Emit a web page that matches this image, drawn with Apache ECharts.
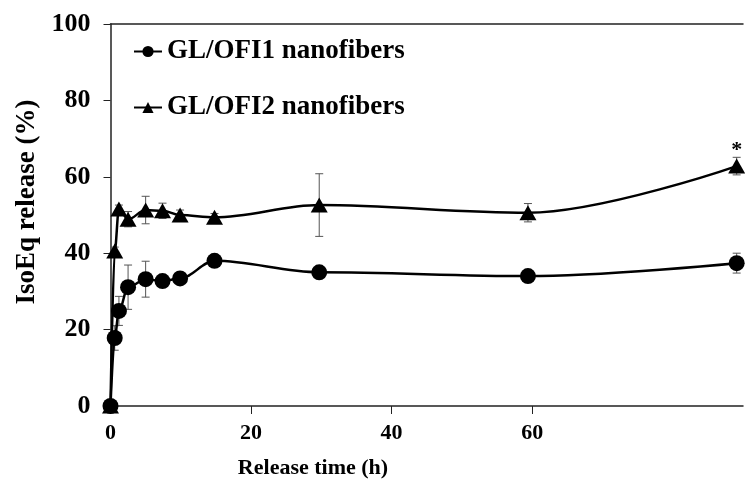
<!DOCTYPE html>
<html>
<head>
<meta charset="utf-8">
<script src="https://cdn.jsdelivr.net/npm/echarts@6/dist/echarts.min.js"></script>
<style>
  html, body { margin: 0; padding: 0; background: #fff; }
  #chart { width: 745px; height: 485px; }
</style>
</head>
<body>
<div id="chart"></div>
<script>
// x positions
var times = [0, 0.6, 1.2, 2.5, 5.0, 7.4, 9.9, 14.8, 29.7, 59.4, 89.1];
// GL/OFI1 nanofibers
var gl1Mean = [0, 17.8, 24.9, 31.1, 33.2, 32.7, 33.4, 38.0, 35.0, 34.0, 37.4];
var gl1Err = [0, 3.2, 3.8, 5.8, 4.7, 0.8, 0.8, 1.5, 0.6, 0.6, 2.6];
// GL/OFI2 nanofibers
var gl2Mean = [0, 40.6, 51.6, 48.9, 51.3, 51.1, 50.0, 49.4, 52.6, 50.6, 62.8];
var gl2Err = [0, 1.0, 1.0, 2.0, 3.6, 2.0, 1.3, 1.0, 8.2, 2.4, 2.3];
var xTicks = [0, 20, 40, 60];

var serif = "Liberation Serif";

function pairs(ys) {
  return times.map(function (t, i) {
    return [t, ys[i]];
  });
}
function errData(ys, es) {
  return times.map(function (t, i) {
    return [t, ys[i] - es[i], ys[i] + es[i]];
  });
}
// 误差线
function errBar(params, api) {
  var x = api.value(0);
  var top = api.coord([x, api.value(2)]);
  var bot = api.coord([x, api.value(1)]);
  var w = 4;
  var st = { stroke: "#555", lineWidth: 1 };
  return {
    type: "group",
    children: [
      { type: "line", shape: { x1: top[0], y1: top[1], x2: bot[0], y2: bot[1] }, style: st },
      { type: "line", shape: { x1: top[0] - w, y1: top[1], x2: top[0] + w, y2: top[1] }, style: st },
      { type: "line", shape: { x1: bot[0] - w, y1: bot[1], x2: bot[0] + w, y2: bot[1] }, style: st },
    ],
  };
}

var gl2Data = pairs(gl2Mean);
var last = gl2Data.length - 1;
gl2Data[last] = {
  value: gl2Data[last],
  label: { show: true, formatter: "*", position: "top", distance: -3, fontSize: 22, fontWeight: "bold", fontFamily: serif, color: "#000" },
};

var myChart = echarts.init(document.getElementById("chart"));
myChart.setOption({
  animation: false,
  textStyle: { fontFamily: serif },
  grid: { left: 110.5, right: 2, top: 24, bottom: 79 },
  title: {
    text: "Release time (h)",
    left: 308,
    top: 452,
    textAlign: "center",
    textStyle: { fontFamily: serif, fontWeight: "bold", fontSize: 22, color: "#000" },
  },
  legend: {
    orient: "vertical",
    left: 128,
    top: 33,
    itemWidth: 28,
    itemHeight: 14,
    itemGap: 29,
    textStyle: { fontFamily: serif, fontWeight: "bold", fontSize: 27, color: "#000" },
    data: ["GL/OFI1 nanofibers", "GL/OFI2 nanofibers"],
  },
  xAxis: [
    {
      type: "value",
      min: 0,
      max: 90,
      splitLine: { show: false },
      axisLine: { lineStyle: { color: "#222", width: 1.5 } },
      axisTick: { customValues: xTicks, length: 8, lineStyle: { color: "#222" } },
      axisLabel: {
        customValues: xTicks,
        margin: 16,
        fontFamily: serif,
        fontWeight: "bold",
        fontSize: 22,
        color: "#000",
      },
    },
    {
      type: "value",
      position: "top",
      min: 0,
      max: 90,
      splitLine: { show: false },
      axisLine: { show: true, lineStyle: { color: "#222", width: 1.5 } },
      axisTick: { show: false },
      axisLabel: { show: false },
    },
  ],
  yAxis: {
    type: "value",
    min: 0,
    max: 100,
    interval: 20,
    name: "IsoEq release (%)",
    nameLocation: "middle",
    nameGap: 70,
    nameTextStyle: { fontFamily: serif, fontWeight: "bold", fontSize: 27, color: "#000", padding: [0, 0, 0, 26] },
    splitLine: { show: false },
    axisLine: { show: true, lineStyle: { color: "#222", width: 1.5 } },
    axisTick: { show: true, length: 7, lineStyle: { color: "#222" } },
    axisLabel: { margin: 20, fontFamily: serif, fontWeight: "bold", fontSize: 26, color: "#000" },
  },
  series: [
    {
      name: "err1",
      type: "custom",
      renderItem: errBar,
      data: errData(gl1Mean, gl1Err),
      encode: { x: 0, y: [1, 2] },
      z: 1,
    },
    {
      name: "err2",
      type: "custom",
      renderItem: errBar,
      data: errData(gl2Mean, gl2Err),
      encode: { x: 0, y: [1, 2] },
      z: 1,
    },
    {
      name: "GL/OFI1 nanofibers",
      type: "line",
      data: pairs(gl1Mean),
      smooth: 0.35,
      smoothMonotone: "x",
      symbol: "circle",
      symbolSize: 16,
      itemStyle: { color: "#000" },
      lineStyle: { color: "#000", width: 2.5 },
      z: 3,
    },
    {
      name: "GL/OFI2 nanofibers",
      type: "line",
      data: gl2Data,
      smooth: 0.35,
      smoothMonotone: "x",
      symbol: "triangle",
      symbolSize: [17, 15],
      itemStyle: { color: "#000" },
      lineStyle: { color: "#000", width: 2.5 },
      z: 3,
    },
  ],
});
window.addEventListener("resize", function () {
  myChart.resize();
});
</script>
</body>
</html>
